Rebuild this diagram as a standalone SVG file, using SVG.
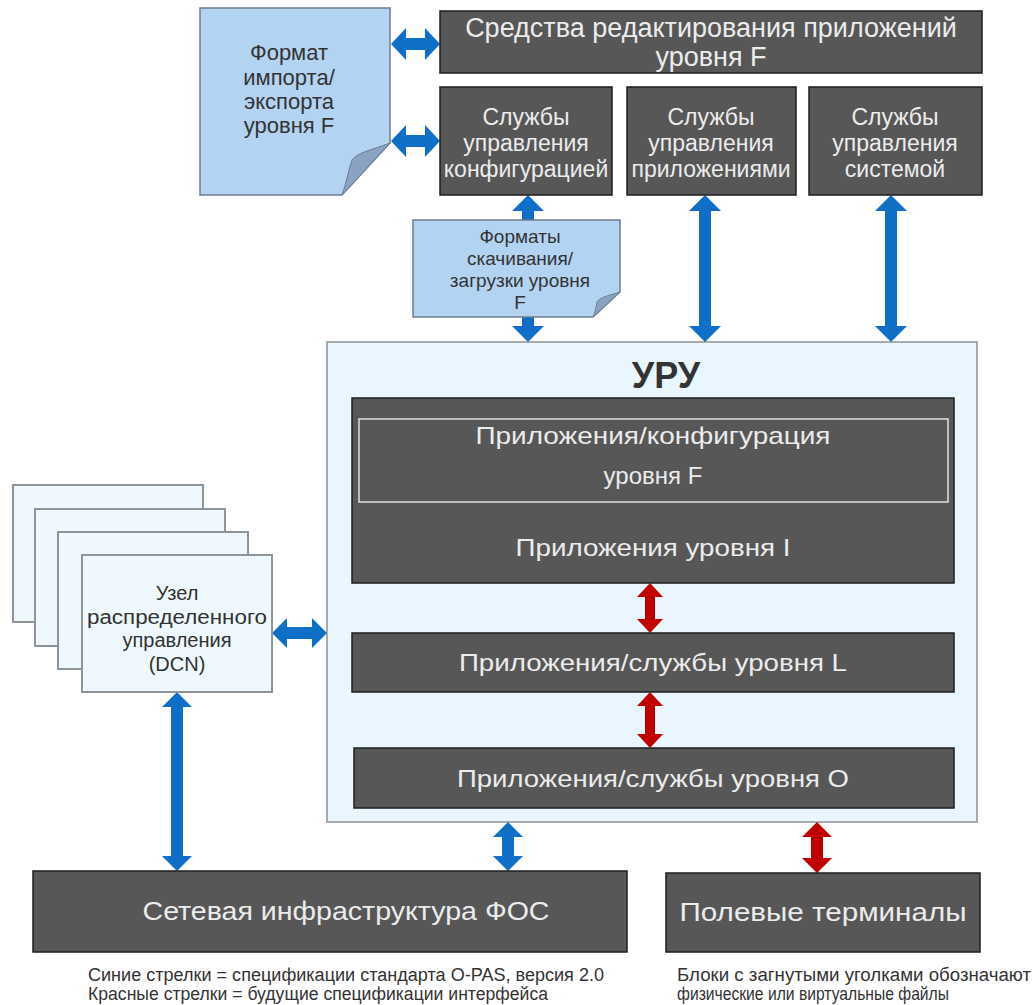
<svg xmlns="http://www.w3.org/2000/svg" width="1035" height="1005" viewBox="0 0 1035 1005">
<style>
text{font-family:"Liberation Sans",Arial,sans-serif}
.dk{fill:#575757;stroke:#1e1e1e;stroke-width:1.5}
.wt{fill:#ececec;text-anchor:middle}
.doc{fill:#b3d3f2;stroke:#6d7e8f;stroke-width:1.5}
.fold{fill:#8aa3c2;stroke:#6d7e8f;stroke-width:1}
.dt{fill:#333;text-anchor:middle}
.pg{fill:#eef8fd;stroke:#8e9499;stroke-width:2}
.blue{fill:#0f6fc6}
.red{fill:#c00000}
.lg{fill:#333;font-size:18px}
</style>
<rect width="1035" height="1005" fill="#fff"/>
<g id="uru">
<rect x="327" y="342" width="650" height="480" fill="#eaf6fd" stroke="#a6acb0" stroke-width="2"/>
<text x="666" y="388" font-size="36" font-weight="bold" fill="#333" text-anchor="middle">УРУ</text>
</g>
<g id="connectors">
<polygon class="blue" points="391,44 406,28 406,38 425,38 425,28 440,44 425,60 425,50 406,50 406,60"/>
<polygon class="blue" points="391,141 406,125 406,135 425,135 425,125 440,141 425,157 425,147 406,147 406,157"/>
<polygon class="blue" points="528,195 544,211 534,211 534,326 544,326 528,342 512,326 522,326 522,211 512,211"/>
<polygon class="blue" points="705,195 721,211 711,211 711,326 721,326 705,342 689,326 699,326 699,211 689,211"/>
<polygon class="blue" points="891,195 907,211 897,211 897,326 907,326 891,342 875,326 885,326 885,211 875,211"/>
<polygon class="blue" points="272,633 287,618 287,627 312,627 312,618 327,633 312,648 312,639 287,639 287,648"/>
<polygon class="blue" points="177,692 192,707 183,707 183,856 192,856 177,871 162,856 171,856 171,707 162,707"/>
<polygon class="blue" points="508,822 523,837 514,837 514,856 523,856 508,871 493,856 502,856 502,837 493,837"/>
<polygon class="red" points="650,583 663,597 655,597 655,619 663,619 650,633 637,619 645,619 645,597 637,597"/>
<polygon class="red" points="650,692 663,706 655,706 655,734 663,734 650,748 637,734 645,734 645,706 637,706"/>
<polygon class="red" points="817,822 832,837 823,837 823,858 832,858 817,873 802,858 811,858 811,837 802,837"/>
</g>
<g id="editor">
<rect class="dk" x="440" y="11" width="542" height="62"/>
<text class="wt" x="711" y="37" font-size="27">Средства редактирования приложений</text>
<text class="wt" x="711" y="66" font-size="27">уровня F</text>
</g>
<g id="svc-config">
<rect class="dk" x="440" y="87" width="172" height="108"/>
<text class="wt" x="526" y="125" font-size="23">Службы</text>
<text class="wt" x="526" y="151" font-size="23">управления</text>
<text class="wt" x="526" y="177" font-size="23">конфигурацией</text>
</g>
<g id="svc-apps">
<rect class="dk" x="627" y="87" width="169" height="108"/>
<text class="wt" x="711" y="125" font-size="23">Службы</text>
<text class="wt" x="711" y="151" font-size="23">управления</text>
<text class="wt" x="711" y="177" font-size="23">приложениями</text>
</g>
<g id="svc-system">
<rect class="dk" x="809" y="87" width="173" height="108"/>
<text class="wt" x="895" y="125" font-size="23">Службы</text>
<text class="wt" x="895" y="151" font-size="23">управления</text>
<text class="wt" x="895" y="177" font-size="23">системой</text>
</g>
<g id="doc-import">
<path class="doc" d="M200,8 H390 V143 L342,195 H200 Z"/>
<path class="fold" d="M390,143 C372,150 358,152 352,160 C348,172 346,184 342,195 Z"/>
<text class="dt" x="289" y="60" font-size="22">Формат</text>
<text class="dt" x="289" y="85" font-size="22">импорта/</text>
<text class="dt" x="289" y="109" font-size="22">экспорта</text>
<text class="dt" x="289" y="133" font-size="22">уровня F</text>
</g>
<g id="doc-download">
<path class="doc" d="M413,220 H620 V292 L593,317 H413 Z"/>
<path class="fold" d="M620,292 C608,296 600,297 597,302 C596,308 595,312 593,317 Z"/>
<text class="dt" x="520" y="243" font-size="19">Форматы</text>
<text class="dt" x="520" y="265" font-size="19">скачивания/</text>
<text class="dt" x="520" y="287" font-size="19">загрузки уровня</text>
<text class="dt" x="520" y="309" font-size="19">F</text>
</g>
<g id="level-fi">
<rect class="dk" x="352" y="398" width="602" height="185"/>
<rect x="359" y="419" width="589" height="83" fill="none" stroke="#e0e0e0" stroke-width="1.5"/>
<text class="wt" x="653" y="444" font-size="24" textLength="355" lengthAdjust="spacingAndGlyphs">Приложения/конфигурация</text>
<text class="wt" x="653" y="484" font-size="24">уровня F</text>
<text class="wt" x="653" y="556" font-size="24" textLength="275" lengthAdjust="spacingAndGlyphs">Приложения уровня I</text>
</g>
<g id="level-l">
<rect class="dk" x="352" y="633" width="602" height="59"/>
<text class="wt" x="653" y="671" font-size="24" textLength="388" lengthAdjust="spacingAndGlyphs">Приложения/службы уровня L</text>
</g>
<g id="level-o">
<rect class="dk" x="354" y="748" width="600" height="60"/>
<text class="wt" x="653" y="787" font-size="24" textLength="392" lengthAdjust="spacingAndGlyphs">Приложения/службы уровня O</text>
</g>
<g id="dcn">
<rect class="pg" x="13" y="485" width="190" height="137"/>
<rect class="pg" x="35" y="509" width="190" height="137"/>
<rect class="pg" x="58" y="532" width="190" height="137"/>
<rect class="pg" x="82" y="555" width="190" height="137"/>
<text class="dt" x="177" y="600" font-size="20">Узел</text>
<text class="dt" x="177" y="624" font-size="20" textLength="180" lengthAdjust="spacingAndGlyphs">распределенного</text>
<text class="dt" x="177" y="647" font-size="20">управления</text>
<text class="dt" x="177" y="671" font-size="20">(DCN)</text>
</g>
<g id="network">
<rect class="dk" x="33" y="871" width="594" height="81"/>
<text class="wt" x="346" y="920" font-size="26" textLength="407" lengthAdjust="spacingAndGlyphs">Сетевая инфраструктура ФОС</text>
</g>
<g id="terminals">
<rect class="dk" x="666" y="873" width="314" height="79"/>
<text class="wt" x="823" y="921" font-size="26" textLength="287" lengthAdjust="spacingAndGlyphs">Полевые терминалы</text>
</g>
<g id="legend">
<text class="lg" x="88" y="981" textLength="516" lengthAdjust="spacingAndGlyphs">Синие стрелки = спецификации стандарта O-PAS,  версия 2.0</text>
<text class="lg" x="88" y="1000" textLength="460" lengthAdjust="spacingAndGlyphs">Красные стрелки =  будущие спецификации интерфейса</text>
<text class="lg" x="677" y="981" textLength="354" lengthAdjust="spacingAndGlyphs">Блоки с загнутыми уголками обозначают</text>
<text class="lg" x="677" y="1000" textLength="272" lengthAdjust="spacingAndGlyphs">физические или виртуальные файлы</text>
</g>
</svg>
